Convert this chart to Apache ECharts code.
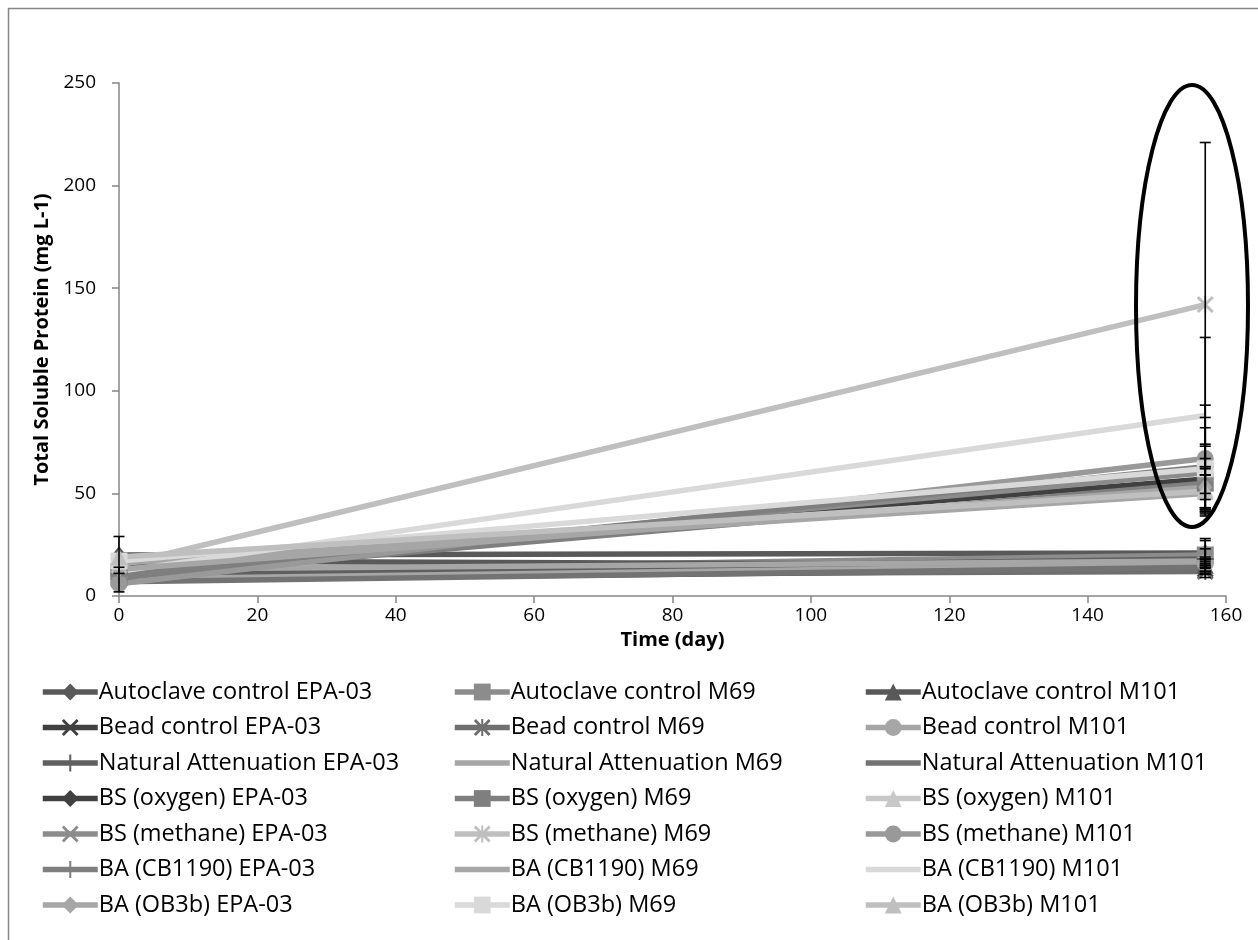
<!DOCTYPE html>
<html>
<head>
<meta charset="utf-8">
<script src="https://cdn.jsdelivr.net/npm/echarts@6/dist/echarts.min.js"></script>
<style>
html,body{margin:0;padding:0;background:#fff;}
#chart{width:1258px;height:940px;}
</style>
</head>
<body>
<div id="chart"></div>
<script>
// ---- data ----
const days = [0, 157];
const seriesNames = [
  'Autoclave control EPA-03', 'Autoclave control M69', 'Autoclave control M101',
  'Bead control EPA-03', 'Bead control M69', 'Bead control M101',
  'Natural Attenuation EPA-03', 'Natural Attenuation M69', 'Natural Attenuation M101',
  'BS (oxygen) EPA-03', 'BS (oxygen) M69', 'BS (oxygen) M101',
  'BS (methane) EPA-03', 'BS (methane) M69', 'BS (methane) M101',
  'BA (CB1190) EPA-03', 'BA (CB1190) M69', 'BA (CB1190) M101',
  'BA (OB3b) EPA-03', 'BA (OB3b) M69', 'BA (OB3b) M101'
];
const startValues = [20, 12, 17, 8, 10, 9, 11, 13, 7, 14, 9, 18, 12, 15, 6, 10, 16, 12, 13, 17, 19];
const endValues   = [21, 20, 15, 13, 12, 16, 18, 17, 14, 57, 55, 52, 60, 142, 67, 63, 50, 88, 53, 62, 51];
const startErrors = [9, 0, 0, 6, 0, 0, 0, 0, 0, 0, 0, 0, 0, 0, 0, 0, 0, 0, 0, 0, 0];
const endErrors   = [7, 3, 3, 2, 1.5, 2, 9, 2, 2, 17, 12, 10, 13, 79, 26, 24, 9, 38, 10, 20, 8];
const xTicks = [0, 20, 40, 60, 80, 100, 120, 140, 160];
const yTicks = [0, 50, 100, 150, 200, 250];

// ---- styles ----
const colors = [
  '#595959', '#8c8c8c', '#595959',
  '#404040', '#6f6f6f', '#a6a6a6',
  '#5f5f5f', '#a6a6a6', '#737373',
  '#404040', '#7f7f7f', '#c8c8c8',
  '#8c8c8c', '#bfbfbf', '#999999',
  '#7f7f7f', '#a6a6a6', '#d9d9d9',
  '#a6a6a6', '#d9d9d9', '#bfbfbf'
];
const X_PATH = 'path://M1.2,0 L5,3.8 L8.8,0 L10,1.2 L6.2,5 L10,8.8 L8.8,10 L5,6.2 L1.2,10 L0,8.8 L3.8,5 L0,1.2 Z';
const PLUS_PATH = 'path://M4.4,0 H5.6 V4.4 H10 V5.6 H5.6 V10 H4.4 V5.6 H0 V4.4 H4.4 Z';
const AST_PATH = 'path://M1.2,0 L5,3.8 L8.8,0 L10,1.2 L6.2,5 L10,8.8 L8.8,10 L5,6.2 L1.2,10 L0,8.8 L3.8,5 L0,1.2 Z M4.4,0 H5.6 V10 H4.4 Z';
const symbols = [
  'diamond', 'rect', 'triangle',
  X_PATH, AST_PATH, 'circle',
  PLUS_PATH, 'none', 'none',
  'diamond', 'rect', 'triangle',
  X_PATH, AST_PATH, 'circle',
  PLUS_PATH, 'none', 'none',
  'diamond', 'rect', 'triangle'
];

const lineSeries = seriesNames.map((n, i) => ({
  name: n,
  type: 'line',
  data: days.map((d, k) => [d, k === 0 ? startValues[i] : endValues[i]]),
  symbol: symbols[i] === 'none' ? 'circle' : symbols[i],
  symbolSize: (symbols[i] === 'diamond') ? [14, 18] : 17,
  showSymbol: symbols[i] !== 'none',
  lineStyle: { width: 5.5, color: colors[i] },
  itemStyle: { color: colors[i], opacity: symbols[i] === 'none' ? 0 : 1 },
  emphasis: { disabled: true },
  animation: false,
  z: 2
}));

const errData = [];
seriesNames.forEach((n, i) => {
  if (startErrors[i] > 0) errData.push([days[0], startValues[i] - startErrors[i], startValues[i] + startErrors[i]]);
  if (endErrors[i] > 0) errData.push([days[1], endValues[i] - endErrors[i], endValues[i] + endErrors[i]]);
});

const errSeries = {
  type: 'custom',
  name: 'err',
  data: errData,
  z: 5,
  animation: false,
  renderItem: function (params, api) {
    const lo = api.coord([api.value(0), api.value(1)]);
    const hi = api.coord([api.value(0), api.value(2)]);
    const w = 5.5;
    const st = { stroke: '#000', lineWidth: 1.6 };
    return {
      type: 'group',
      children: [
        { type: 'line', shape: { x1: lo[0], y1: lo[1], x2: hi[0], y2: hi[1] }, style: st },
        { type: 'line', shape: { x1: lo[0] - w, y1: lo[1], x2: lo[0] + w, y2: lo[1] }, style: st },
        { type: 'line', shape: { x1: hi[0] - w, y1: hi[1], x2: hi[0] + w, y2: hi[1] }, style: st }
      ]
    };
  }
};

const FONT = 'Open Sans';
function legendCol(left, offset) {
  return {
    left: left, top: 680, orient: 'vertical',
    padding: 0, itemGap: 11.5, itemWidth: 55, itemHeight: 21,
    selectedMode: false,
    lineStyle: { width: 5.5 },
    data: seriesNames.map((n, i) => ({ name: n, idx: i }))
      .filter(o => o.idx % 3 === offset)
      .map(o => symbols[o.idx] === 'none' ? { name: o.name, itemStyle: { opacity: 0 } } : { name: o.name }),
    textStyle: { fontFamily: FONT, fontSize: 23.5, color: '#000', lineHeight: 23, padding: [0, 0, 0, -4] }
  };
}

const chart = echarts.init(document.getElementById('chart'), null, { renderer: 'canvas' });
chart.setOption({
  backgroundColor: '#fff',
  animation: false,
  grid: { left: 119, right: 32, top: 83, bottom: 344, containLabel: false },
  xAxis: {
    type: 'value', min: xTicks[0], max: xTicks[xTicks.length - 1], interval: 20,
    name: 'Time (day)', nameLocation: 'middle', nameGap: 34,
    nameTextStyle: { fontFamily: FONT, fontSize: 20, fontWeight: 'bold', color: '#000' },
    axisLine: { lineStyle: { color: '#868686', width: 1.5 } },
    axisTick: { show: true, inside: false, length: 7, lineStyle: { color: '#868686', width: 1.5 } },
    axisLabel: { fontFamily: FONT, fontSize: 19, color: '#000', margin: 10 },
    splitLine: { show: false }
  },
  yAxis: {
    type: 'value', min: yTicks[0], max: yTicks[yTicks.length - 1], interval: 50,
    name: 'Total Soluble Protein (mg L-1)', nameLocation: 'middle', nameGap: 67, nameRotate: 90,
    nameMoveOverlap: false,
    nameTextStyle: { fontFamily: FONT, fontSize: 20, fontWeight: 'bold', color: '#000' },
    axisLine: { show: true, lineStyle: { color: '#868686', width: 1.5 } },
    axisTick: { show: true, inside: false, length: 7, lineStyle: { color: '#868686', width: 1.5 } },
    axisLabel: { fontFamily: FONT, fontSize: 19, color: '#000', margin: 23 },
    splitLine: { show: false }
  },
  legend: [legendCol(40, 0), legendCol(452, 1), legendCol(863, 2)],
  series: lineSeries.concat([errSeries]),
  graphic: [
    { type: 'rect', shape: { x: 8.5, y: 8.5, width: 1400, height: 1100 }, style: { fill: 'none', stroke: '#868686', lineWidth: 1.5 }, silent: true, z: 0 },
    { type: 'ellipse', shape: { cx: 1192, cy: 306, rx: 56, ry: 221 }, style: { fill: 'none', stroke: '#000', lineWidth: 4 }, silent: true, z: 100 }
  ]
});
</script>
</body>
</html>
